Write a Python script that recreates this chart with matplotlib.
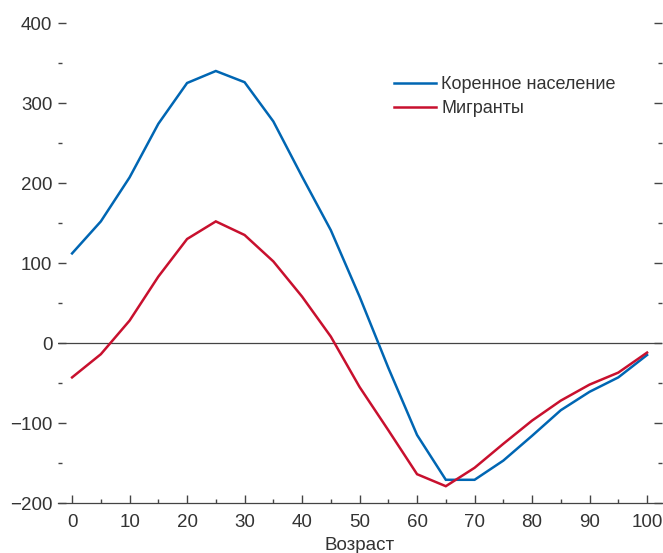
import matplotlib
matplotlib.use("Agg")
import matplotlib.pyplot as plt
from matplotlib.ticker import MultipleLocator

plt.rcParams['font.family'] = ['Liberation Sans', 'DejaVu Sans']

ages = [0, 5, 10, 15, 20, 25, 30, 35, 40, 45, 50, 55, 60, 65, 70, 75, 80, 85, 90, 95, 100]
native = [112, 152, 207, 274, 325, 340, 326, 277, 208, 141, 58, -31, -115, -171, -171,
          -147, -116, -84, -61, -43, -15]
migrants = [-43, -14, 28, 83, 130, 152, 135, 102, 58, 8, -55, -109, -164, -179, -156,
            -126, -97, -72, -52, -37, -12]
series_names = ["Коренное население", "Мигранты"]
x_label = "Возраст"

blue = "#0066b3"
red = "#c8102e"
text_color = "#333333"

fig = plt.figure(figsize=(6.63, 5.53), dpi=100)
ax = fig.add_axes([58 / 663, 50 / 553, 604 / 663, 480 / 553])

ax.plot(ages, native, color=blue, lw=1.8, label=series_names[0], solid_joinstyle='miter')
ax.plot(ages, migrants, color=red, lw=1.8, label=series_names[1], solid_joinstyle='miter')
ax.axhline(0, color="#444444", lw=0.9, zorder=0)

ax.set_xlim(-2.45, 102.6)
ax.set_ylim(-200, 400)

for side in ("top", "left", "right"):
    ax.spines[side].set_visible(False)
ax.spines["bottom"].set_color("#444444")
ax.spines["bottom"].set_linewidth(0.9)

ax.xaxis.set_major_locator(MultipleLocator(10))
ax.xaxis.set_minor_locator(MultipleLocator(5))
ax.yaxis.set_major_locator(MultipleLocator(100))
ax.yaxis.set_minor_locator(MultipleLocator(50))

ax.tick_params(axis="both", which="major", direction="in", length=6, width=1.0,
               color="#444444", labelsize=13.5, labelcolor=text_color)
ax.tick_params(axis="both", which="minor", direction="in", length=3, width=1.0,
               color="#444444")
ax.tick_params(axis="y", which="both", left=True, right=True, pad=4)
ax.tick_params(axis="x", which="both", pad=8)

ax.set_xlabel(x_label, fontsize=13.5, color=text_color, labelpad=4)

leg = ax.legend(loc="upper left", bbox_to_anchor=(0.545, 0.905), frameon=False,
                fontsize=13, handlelength=2.3, handletextpad=0.3,
                labelspacing=0.42, borderaxespad=0)
for t in leg.get_texts():
    t.set_color(text_color)

fig.savefig("out.png", dpi=100)
